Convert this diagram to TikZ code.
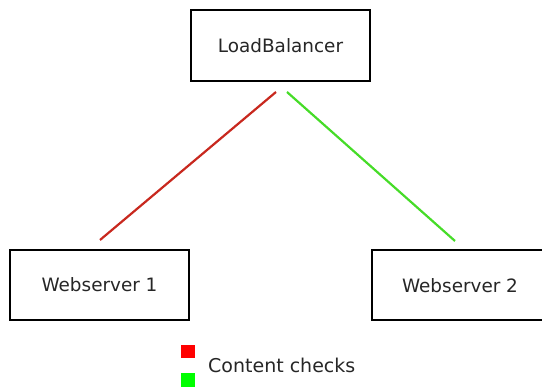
\documentclass[tikz,border=0pt]{standalone}
\usepackage{fontspec}
\setmainfont{DejaVu Sans}
\definecolor{linkred}{RGB}{200,40,30}
\definecolor{linkgreen}{RGB}{70,220,40}
\definecolor{legred}{RGB}{255,0,0}
\definecolor{leggreen}{RGB}{0,255,0}
\begin{document}
\begin{tikzpicture}[x=1pt,y=-1pt,
  box/.style={draw=black,line width=2pt,fill=white,inner sep=0pt},
  lbl/.style={font=\fontsize{18.4}{21}\selectfont,text=black!85},
  link/.style={line width=2.2pt}]
\useasboundingbox (0,0) rectangle (542,387);
\node[box,minimum width=179pt,minimum height=71pt] (lb) at (280.5,45.5) {};
\node[lbl] at (lb.center) {LoadBalancer};
\node[box,minimum width=179pt,minimum height=70pt] (w1) at (99.5,285) {};
\node[lbl] at (w1.center) {Webserver 1};
\node[box,minimum width=175pt,minimum height=70pt,anchor=west] (w2) at (371,285) {};
\node[lbl] at (460,286) {Webserver 2};
\coordinate (r1) at (276,92);
\coordinate (r2) at (100,240);
\coordinate (g1) at (287,92);
\coordinate (g2) at (455,241);
\draw[link,linkred] (r1) -- (r2);
\draw[link,linkgreen] (g1) -- (g2);
\node[fill=legred,minimum width=14pt,minimum height=13pt,inner sep=0pt] (lr) at (188,351.5) {};
\node[fill=leggreen,minimum width=14pt,minimum height=14pt,inner sep=0pt] (lg) at (188,380) {};
\node[lbl,anchor=west,inner sep=0pt,font=\fontsize{19}{22}\selectfont] (lt) at (208,365) {Content checks};
\end{tikzpicture}
\end{document}
